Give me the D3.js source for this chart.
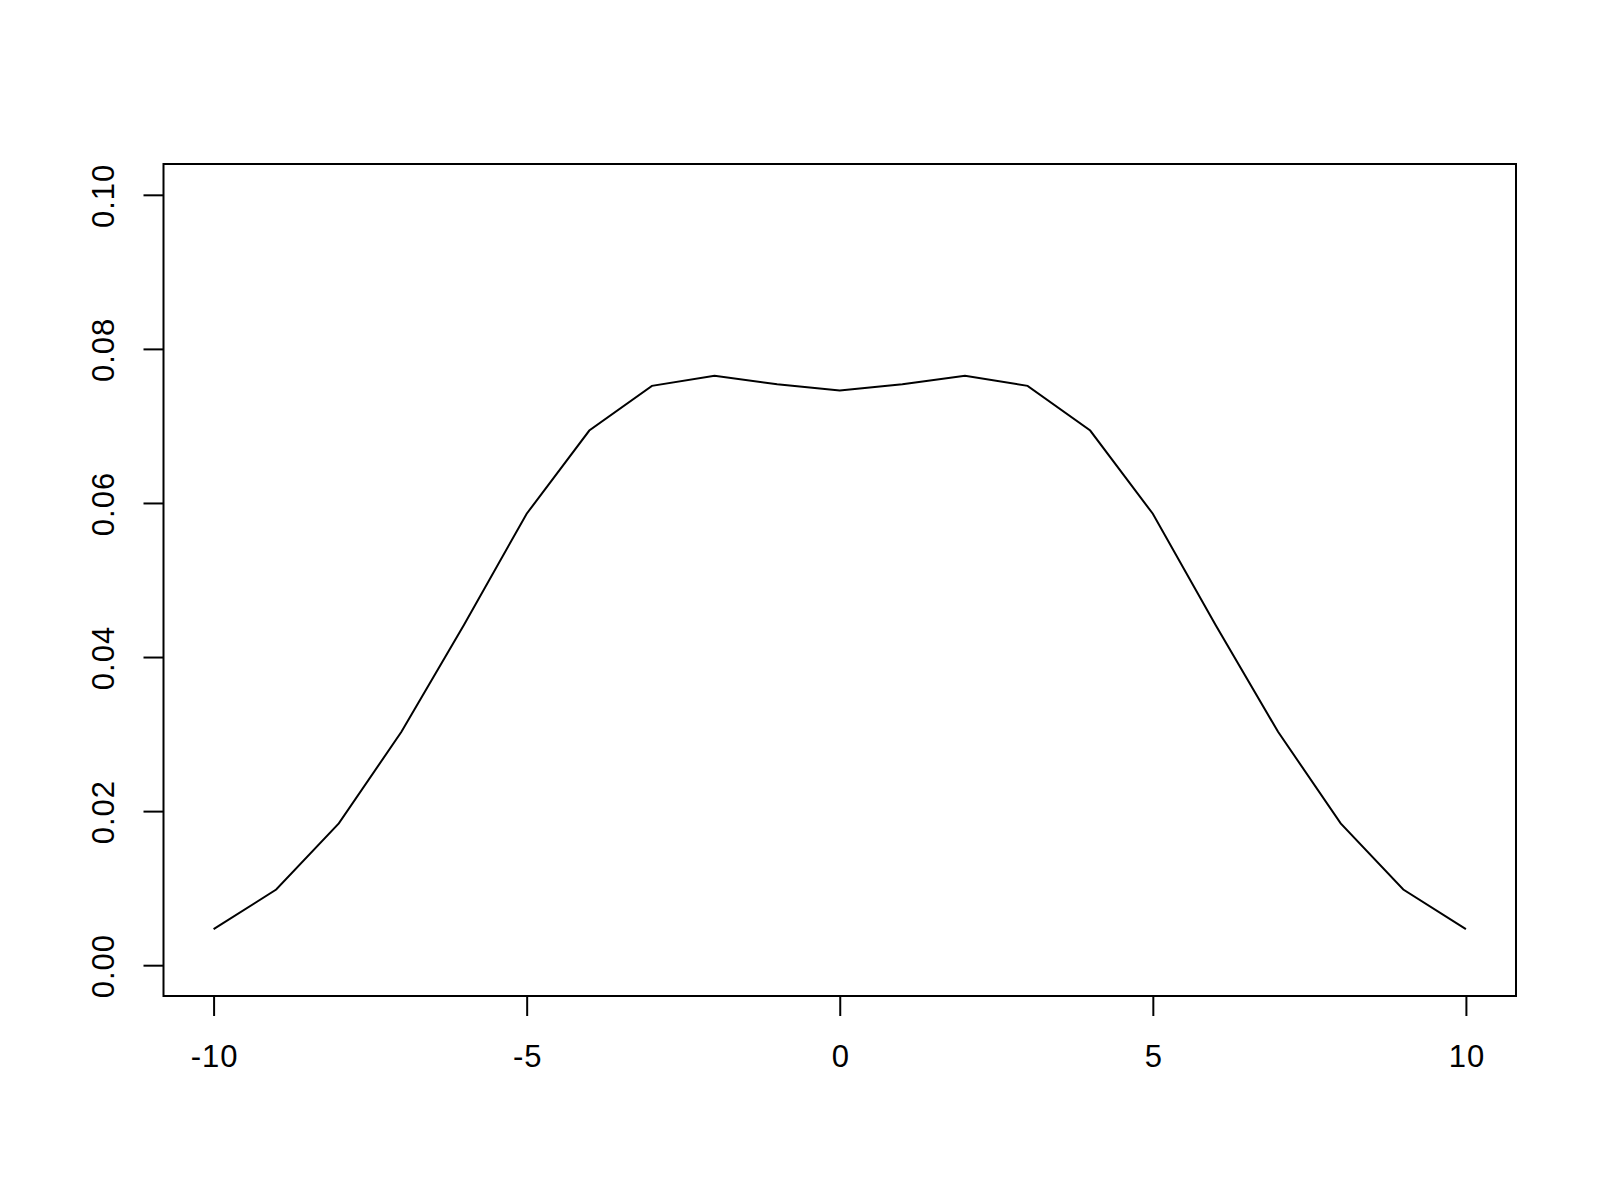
<!DOCTYPE html>
<html>
<head>
<meta charset="utf-8">
<script src="https://cdn.jsdelivr.net/npm/d3@7"></script>
<style>
  body { margin: 0; background: #fff; }
  text { font-family: "Liberation Sans", Arial, sans-serif; }
</style>
</head>
<body>
<div id="chart"></div>
<script>
var svgwidth = 1600;
var svgheight = 1200;

// data
var xs = [-10, -9, -8, -7, -6, -5, -4, -3, -2, -1, 0, 1, 2, 3, 4, 5, 6, 7, 8, 9, 10];
var ys = [0.00467, 0.00982, 0.0184, 0.0303, 0.0442, 0.0586, 0.0694, 0.0752, 0.0765, 0.0754,
          0.0746,
          0.0754, 0.0765, 0.0752, 0.0694, 0.0586, 0.0442, 0.0303, 0.0184, 0.00982, 0.00467];
var xTicks = [-10, -5, 0, 5, 10];
var yTicks = [0.00, 0.02, 0.04, 0.06, 0.08, 0.10];

var boxLeft = 163.5, boxRight = 1516, boxTop = 164, boxBottom = 996;

var svg = d3.select("#chart")
            .append("svg")
            .attr("width", svgwidth)
            .attr("height", svgheight);

// R pads the axis range by 4% on each side
var xscale = d3.scaleLinear().domain([-10.8, 10.8]).range([boxLeft, boxRight]);
var yscale = d3.scaleLinear().domain([-0.004, 0.104]).range([boxBottom, boxTop]);

var xaxis = d3.axisBottom(xscale)
              .tickValues(xTicks)
              .tickSize(20)
              .tickSizeOuter(0)
              .tickFormat(function(d) { return String(d); });

var gx = svg.append("g")
    .attr("transform", "translate(0," + boxBottom + ")")
    .call(xaxis);
gx.select(".domain").remove();
gx.selectAll("line").attr("stroke", "#000").attr("stroke-width", 2);
gx.selectAll("text")
    .attr("y", 71)
    .attr("dy", null)
    .attr("dx", "0.5")
    .style("font-size", "31px")
    .style("letter-spacing", "1px")
    .attr("fill", "#000");

var yaxis = d3.axisLeft(yscale)
              .tickValues(yTicks)
              .tickSize(20)
              .tickSizeOuter(0)
              .tickFormat(d3.format(".2f"));

var gy = svg.append("g")
    .attr("transform", "translate(" + boxLeft + ",0)")
    .call(yaxis);
gy.select(".domain").remove();
gy.selectAll("line").attr("stroke", "#000").attr("stroke-width", 2);
gy.selectAll("text")
    .attr("x", null)
    .attr("dy", null)
    .attr("transform", "translate(-50,0.5) rotate(-90)")
    .style("text-anchor", "middle")
    .style("font-size", "31px")
    .style("letter-spacing", "1px")
    .attr("fill", "#000");

// plot box
svg.append("rect")
    .attr("x", boxLeft)
    .attr("y", boxTop)
    .attr("width", boxRight - boxLeft)
    .attr("height", boxBottom - boxTop)
    .attr("fill", "none")
    .attr("stroke", "#000")
    .attr("stroke-width", 2);

var line = d3.line()
    .x(function(d, i) { return xscale(xs[i]); })
    .y(function(d) { return yscale(d); });

svg.append("path")
    .datum(ys)
    .attr("d", line)
    .attr("fill", "none")
    .attr("stroke", "#000")
    .attr("stroke-width", 2);
</script>
</body>
</html>
